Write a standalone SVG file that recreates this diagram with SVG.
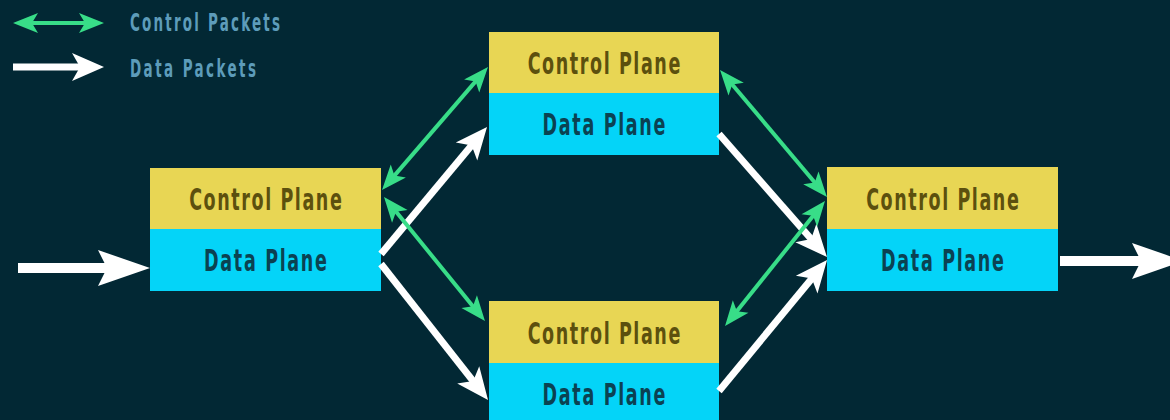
<svg xmlns="http://www.w3.org/2000/svg" width="1170" height="420" viewBox="0 0 1170 420">
  <style>
    .cp { fill: #e8d654; }
    .dp { fill: #04d4f8; }
    .lbl { font-family: "DejaVu Sans Condensed", "DejaVu Sans", sans-serif; font-stretch: condensed; font-weight: bold; font-size: 30px; text-anchor: middle; }
    .lc { fill: #5c500e; }
    .ld { fill: #0b4252; }
    .legend { font-family: "DejaVu Sans Condensed", "DejaVu Sans", sans-serif; font-stretch: condensed; font-weight: bold; font-size: 25px; fill: #5d9cba; }
    .ctl { stroke: #38dd88; stroke-width: 4; fill: none; marker-start: url(#gHead); marker-end: url(#gHead); }
    .dat { stroke: #ffffff; stroke-width: 7; fill: none; marker-end: url(#wHead); }
    .big { stroke: #ffffff; stroke-width: 10; fill: none; marker-end: url(#wBig); }
  </style>
  <defs>
    <marker id="gHead" viewBox="-26 -11 27 22" markerWidth="27" markerHeight="22" refX="-15" refY="0" markerUnits="userSpaceOnUse" orient="auto-start-reverse">
      <path d="M0,0 L-25,-10 L-19,0 L-25,10 Z" fill="#38dd88"/>
    </marker>
    <marker id="wHead" viewBox="-33 -15 34 30" markerWidth="34" markerHeight="30" refX="-18" refY="0" markerUnits="userSpaceOnUse" orient="auto">
      <path d="M0,0 L-32,-14 L-24,0 L-32,14 Z" fill="#ffffff"/>
    </marker>
    <marker id="wBig" viewBox="-53 -19 54 38" markerWidth="54" markerHeight="38" refX="-30" refY="0" markerUnits="userSpaceOnUse" orient="auto">
      <path d="M0,0 L-52,-18 L-43,0 L-52,18 Z" fill="#ffffff"/>
    </marker>
  </defs>

  <rect x="0" y="0" width="1170" height="420" fill="#022834"/>

  <!-- legend -->
  <g id="legend">
    <line class="ctl" x1="28" y1="23" x2="89" y2="23"/>
    <text class="legend" transform="translate(130,31) scale(0.6,1)" x="0" y="0" textLength="250" lengthAdjust="spacing">Control Packets</text>
    <line class="dat" x1="13" y1="67" x2="86" y2="67" stroke-width="8"/>
    <text class="legend" transform="translate(130,77) scale(0.6,1)" x="0" y="0" textLength="210" lengthAdjust="spacing">Data Packets</text>
  </g>

  <!-- routers: control plane on top, data plane below -->
  <g id="router-left">
    <rect class="cp" x="150" y="168" width="231" height="61"/>
    <rect class="dp" x="150" y="229" width="231" height="62"/>
    <text class="lbl lc" transform="translate(265.5,210) scale(0.65,1)" x="0" y="0" textLength="235" lengthAdjust="spacing">Control Plane</text>
    <text class="lbl ld" transform="translate(265.5,271) scale(0.65,1)" x="0" y="0" textLength="189" lengthAdjust="spacing">Data Plane</text>
  </g>
  <g id="router-top">
    <rect class="cp" x="489" y="32" width="230" height="61"/>
    <rect class="dp" x="489" y="93" width="230" height="62"/>
    <text class="lbl lc" transform="translate(604,74) scale(0.65,1)" x="0" y="0" textLength="235" lengthAdjust="spacing">Control Plane</text>
    <text class="lbl ld" transform="translate(604,135) scale(0.65,1)" x="0" y="0" textLength="189" lengthAdjust="spacing">Data Plane</text>
  </g>
  <g id="router-bottom">
    <rect class="cp" x="489" y="301" width="230" height="62"/>
    <rect class="dp" x="489" y="363" width="230" height="62"/>
    <text class="lbl lc" transform="translate(604,344) scale(0.65,1)" x="0" y="0" textLength="235" lengthAdjust="spacing">Control Plane</text>
    <text class="lbl ld" transform="translate(604,405) scale(0.65,1)" x="0" y="0" textLength="189" lengthAdjust="spacing">Data Plane</text>
  </g>
  <g id="router-right">
    <rect class="cp" x="827" y="167" width="231" height="62"/>
    <rect class="dp" x="827" y="229" width="231" height="62"/>
    <text class="lbl lc" transform="translate(942.5,210) scale(0.65,1)" x="0" y="0" textLength="235" lengthAdjust="spacing">Control Plane</text>
    <text class="lbl ld" transform="translate(942.5,271) scale(0.65,1)" x="0" y="0" textLength="189" lengthAdjust="spacing">Data Plane</text>
  </g>

  <!-- connectors -->
  <g id="connectors">
    <line class="big" x1="18" y1="268" x2="120" y2="268"/>
    <line class="big" x1="1060" y1="261" x2="1154" y2="261"/>

    <line class="dat" x1="381" y1="254" x2="475.5" y2="140.8"/>
    <line class="dat" x1="381" y1="264" x2="476.9" y2="385.8"/>
    <line class="dat" x1="719" y1="134" x2="815.1" y2="243.5"/>
    <line class="dat" x1="719" y1="391" x2="815.6" y2="273.9"/>

    <line class="ctl" x1="391.8" y1="178.6" x2="478.2" y2="78.4"/>
    <line class="ctl" x1="393.5" y1="208.6" x2="475.5" y2="309.4"/>
    <line class="ctl" x1="729.7" y1="81.5" x2="817.3" y2="185.5"/>
    <line class="ctl" x1="815.6" y1="212.7" x2="734.4" y2="314.3"/>
  </g>
</svg>
